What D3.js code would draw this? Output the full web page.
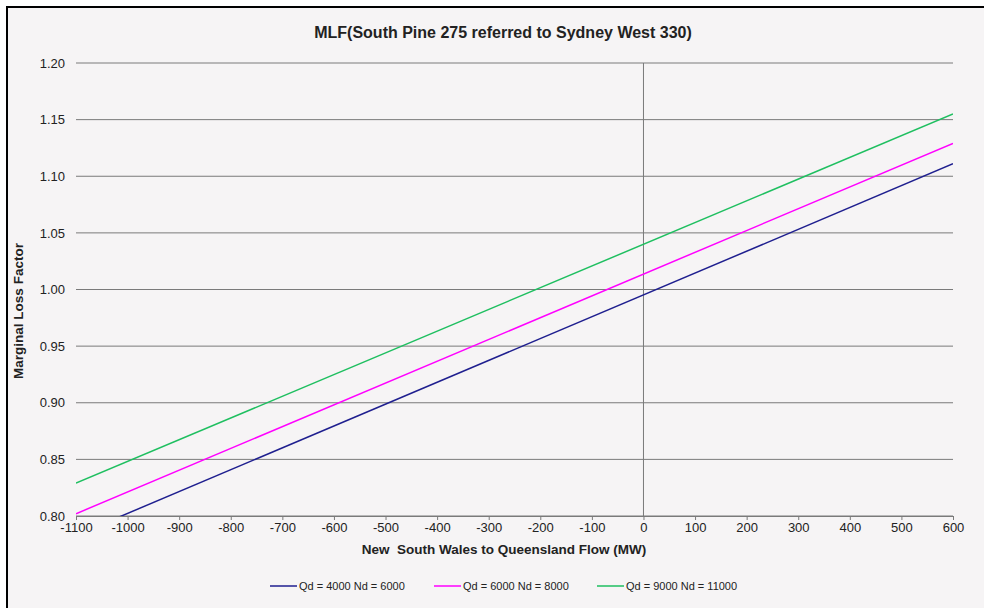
<!DOCTYPE html>
<html>
<head>
<meta charset="utf-8">
<script src="https://cdn.jsdelivr.net/npm/d3@7"></script>
<style>
	body { margin: 0; background: #fff; }
	svg { display: block; font-family: "Liberation Sans", Arial, sans-serif; }
</style>
</head>
<body>
<svg id="chart" width="984" height="608"></svg>
<script>
// flow (MW) at the ends of each line
const flows = [-1100, 600];
const seriesNames = ["Qd = 4000 Nd = 6000", "Qd = 6000 Nd = 8000", "Qd = 9000 Nd = 11000"];
const lowLoad = [0.783, 1.111];
const midLoad = [0.802, 1.129];
const highLoad = [0.829, 1.155];
const xTicks = [-1100, -1000, -900, -800, -700, -600, -500, -400, -300, -200, -100, 0, 100, 200, 300, 400, 500, 600];
const yTicks = [0.80, 0.85, 0.90, 0.95, 1.00, 1.05, 1.10, 1.15, 1.20];

const colors = ["#1f1f8f", "#ff00ff", "#1fbf60"];
const series = [lowLoad, midLoad, highLoad];

const svg = d3.select("#chart");
const width = +svg.attr("width");
const height = +svg.attr("height");

// chart frame, cut by right and bottom edges
svg.append("rect")
	.attr("x", 7).attr("y", 7)
	.attr("width", width).attr("height", height)
	.attr("fill", "#f6f4f5")
	.attr("stroke", "#000")
	.attr("stroke-width", 2);

const plot = { left: 76, right: 953, top: 63, bottom: 516 };

const x = d3.scaleLinear().domain([-1100, 600]).range([plot.left, plot.right]);
const y = d3.scaleLinear().domain([0.80, 1.20]).range([plot.bottom, plot.top]);

svg.append("text")
	.attr("x", 503).attr("y", 38)
	.attr("text-anchor", "middle")
	.attr("font-size", 16).attr("font-weight", "bold")
	.attr("fill", "#222")
	.text("MLF(South Pine 275 referred to Sydney West 330)");

// horizontal grid lines
svg.append("g")
	.selectAll("line")
	.data(yTicks)
	.enter().append("line")
	.attr("x1", plot.left).attr("x2", plot.right)
	.attr("y1", (d) => y(d)).attr("y2", (d) => y(d))
	.attr("stroke", "#7a7a7a")
	.attr("stroke-width", 1);

// vertical line at zero flow
svg.append("line")
	.attr("x1", x(0)).attr("x2", x(0))
	.attr("y1", y(1.20)).attr("y2", y(0.80))
	.attr("stroke", "#7a7a7a")
	.attr("stroke-width", 1);

const yAxis = svg.append("g")
	.attr("transform", "translate(" + plot.left + ",0)")
	.call(d3.axisLeft(y).tickValues(yTicks).tickFormat(d3.format(".2f")).tickSize(0).tickPadding(11));
yAxis.select(".domain").remove();
yAxis.selectAll("text").attr("font-size", 13).attr("fill", "#222").attr("font-family", null);

const xAxis = svg.append("g")
	.attr("transform", "translate(0," + plot.bottom + ")")
	.call(d3.axisBottom(x).tickValues(xTicks).tickFormat((d) => String(d)).tickSizeInner(4).tickSizeOuter(0).tickPadding(3));
xAxis.select(".domain").attr("stroke", "#7a7a7a");
xAxis.selectAll(".tick line").attr("stroke", "#7a7a7a");
xAxis.selectAll("text").attr("font-size", 13).attr("fill", "#222").attr("font-family", null);

svg.append("text")
	.attr("x", 504).attr("y", 554)
	.attr("text-anchor", "middle")
	.attr("font-size", 13.5).attr("font-weight", "bold")
	.attr("fill", "#222")
	.attr("xml:space", "preserve")
	.text("New  South Wales to Queensland Flow (MW)");

svg.append("text")
	.attr("transform", "translate(23,311) rotate(-90)")
	.attr("text-anchor", "middle")
	.attr("font-size", 13.5).attr("font-weight", "bold")
	.attr("fill", "#222")
	.text("Marginal Loss Factor");

svg.append("clipPath").attr("id", "plot-clip")
	.append("rect")
	.attr("x", plot.left).attr("y", plot.top)
	.attr("width", plot.right - plot.left).attr("height", plot.bottom - plot.top);

const line = d3.line()
	.x((d, i) => x(flows[i]))
	.y((d) => y(d));

svg.append("g")
	.attr("clip-path", "url(#plot-clip)")
	.selectAll("path")
	.data(series)
	.enter().append("path")
	.attr("d", (d) => line(d))
	.attr("fill", "none")
	.attr("stroke", (d, i) => colors[i])
	.attr("stroke-width", 1.5);

// legend
const legendX = [270, 434, 597];
const legend = svg.append("g")
	.selectAll("g")
	.data(seriesNames)
	.enter().append("g")
	.attr("transform", (d, i) => "translate(" + legendX[i] + ",586)");
legend.append("line")
	.attr("x1", 0).attr("x2", 27)
	.attr("stroke", (d, i) => colors[i])
	.attr("stroke-width", 1.5);
legend.append("text")
	.attr("x", 29).attr("y", 4)
	.attr("font-size", 11)
	.attr("fill", "#222")
	.text((d) => d);
</script>
</body>
</html>
